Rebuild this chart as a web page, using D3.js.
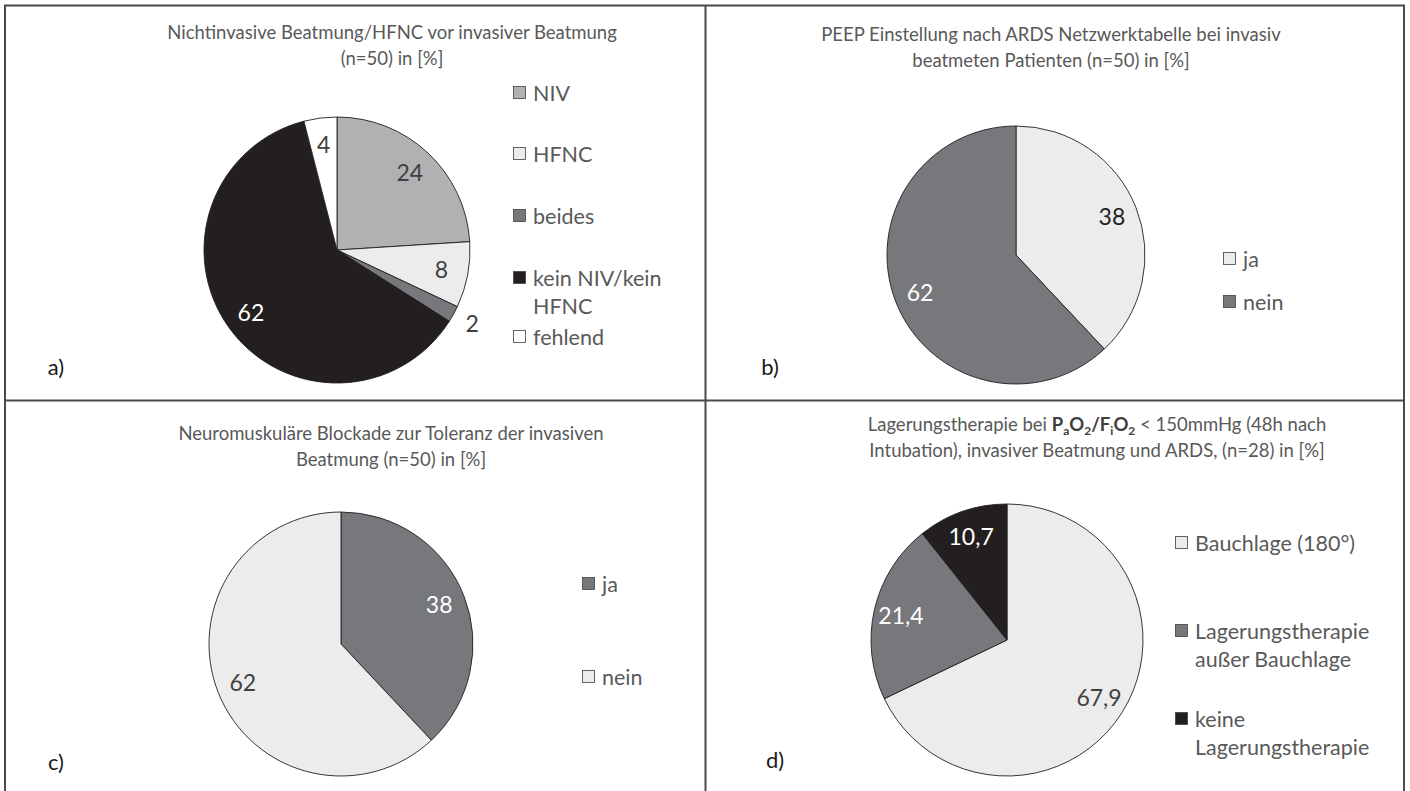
<!DOCTYPE html>
<html>
<head>
<meta charset="utf-8">
<script src="https://cdn.jsdelivr.net/npm/d3@7"></script>
<style>
  body { margin: 0; background: #fff; }
  svg text { font-family: Lato, "Open Sans", sans-serif; }
</style>
</head>
<body>
<svg id="canvas" width="1410" height="791"></svg>
<script>
// data
const catsA = [["NIV"], ["HFNC"], ["beides"], ["kein NIV/kein", "HFNC"], ["fehlend"]];
const valsA = [24, 8, 2, 62, 4];

const catsB = [["ja"], ["nein"]];
const valsB = [38, 62];

const catsC = [["ja"], ["nein"]];
const valsC = [38, 62];

const catsD = [["Bauchlage (180°)"], ["Lagerungstherapie", "außer Bauchlage"], ["keine", "Lagerungstherapie"]];
const valsD = [67.9, 21.4, 10.7];

const titleA = ["Nichtinvasive Beatmung/HFNC vor invasiver Beatmung", "(n=50) in [%]"];
const titleB = ["PEEP Einstellung nach ARDS Netzwerktabelle bei invasiv", "beatmeten Patienten (n=50) in [%]"];
const titleC = ["Neuromuskuläre Blockade zur Toleranz der invasiven", "Beatmung (n=50) in [%]"];
const titleD = [null, "Intubation), invasiver Beatmung und ARDS, (n=28) in [%]"]; // first line has subscripts

const LIGHT = "#ececec", MID = "#b1b1b3", DARK = "#77787b", BLACK = "#231f20", WHITE = "#ffffff";

const de = d3.formatLocale({decimal: ",", thousands: ".", grouping: [3], currency: ["", " €"]});
const fmt = v => Number.isInteger(v) ? String(v) : de.format(".1f")(v);

const svg = d3.select("#canvas");

const panels = [
  {id: "a)", cats: catsA, vals: valsA, title: titleA,
   fills: [MID, LIGHT, DARK, BLACK, WHITE], labelCol: ["#404040", "#404040", "#404040", "#fff", "#404040"],
   cx: 337, cy: 250, r: 133, tx: 392, ty: 39, lx: 513, ly: [93, 154, 216, 278, 337], tag: [56, 367]},
  {id: "b)", cats: catsB, vals: valsB, title: titleB,
   fills: [LIGHT, DARK], labelCol: ["#231f20", "#fff"],
   cx: 1016, cy: 255, r: 129, tx: 1051, ty: 41, lx: 1223, ly: [259, 302], tag: [770, 367]},
  {id: "c)", cats: catsC, vals: valsC, title: titleC,
   fills: [DARK, LIGHT], labelCol: ["#fff", "#404040"],
   cx: 341, cy: 644, r: 132, tx: 391, ty: 440, lx: 582, ly: [584, 677], tag: [56, 762]},
  {id: "d)", cats: catsD, vals: valsD, title: titleD,
   fills: [LIGHT, DARK, BLACK], labelCol: ["#404040", "#fff", "#fff"],
   cx: 1007, cy: 640, r: 136, tx: 1097, ty: 431, lx: 1175, ly: [543, 631, 719], tag: [775, 760]}
];

// frame
const frame = svg.append("g").attr("stroke", "#4a4a4a").attr("stroke-width", 2).attr("fill", "none");
frame.append("rect").attr("x", 5).attr("y", 5.5).attr("width", 1399).attr("height", 800);
frame.append("line").attr("x1", 705.5).attr("x2", 705.5).attr("y1", 5).attr("y2", 791);
frame.append("line").attr("x1", 5).attr("x2", 1404).attr("y1", 400.5).attr("y2", 400.5);

const pie = d3.pie().sort(null).value(d => d);

panels.forEach(p => {
  const g = svg.append("g");
  const arc = d3.arc().innerRadius(0).outerRadius(p.r);
  const labelArc = d3.arc().innerRadius(p.r * 0.8).outerRadius(p.r * 0.8);
  const outArc = d3.arc().innerRadius(p.r * 1.16).outerRadius(p.r * 1.16);
  const arcs = pie(p.vals);

  const pg = g.append("g").attr("transform", `translate(${p.cx},${p.cy})`);
  pg.selectAll("path")
    .data(arcs)
    .enter()
    .append("path")
    .attr("d", arc)
    .attr("fill", (d, i) => p.fills[i])
    .attr("stroke", "#231f20")
    .attr("stroke-width", 0.9);

  pg.selectAll("text")
    .data(arcs)
    .enter()
    .append("text")
    .attr("transform", d => `translate(${(d.data < 3 ? outArc : labelArc).centroid(d)})`)
    .attr("text-anchor", "middle")
    .attr("dy", "0.35em")
    .attr("font-size", 23)
    .attr("fill", (d, i) => p.labelCol[i])
    .text(d => fmt(d.data));

  // title
  const t = g.append("text")
    .attr("text-anchor", "middle")
    .attr("font-size", 18.5)
    .attr("fill", "#595959");
  if (p.title[0] !== null) {
    t.append("tspan").attr("x", p.tx).attr("y", p.ty).text(p.title[0]);
  } else {
    const l1 = t.append("tspan").attr("x", p.tx).attr("y", p.ty);
    l1.append("tspan").text("Lagerungstherapie bei ");
    const b = l1.append("tspan").attr("font-weight", "bold").attr("fill", "#404040");
    b.append("tspan").text("P");
    b.append("tspan").attr("font-size", 12).attr("dy", 4).text("a");
    b.append("tspan").attr("dy", -4).text("O");
    b.append("tspan").attr("font-size", 12).attr("dy", 4).text("2");
    b.append("tspan").attr("dy", -4).text("/F");
    b.append("tspan").attr("font-size", 12).attr("dy", 4).text("i");
    b.append("tspan").attr("dy", -4).text("O");
    b.append("tspan").attr("font-size", 12).attr("dy", 4).text("2");
    l1.append("tspan").attr("dy", -4).text(" < 150mmHg (48h nach");
  }
  t.append("tspan").attr("x", p.tx).attr("y", p.ty + 26).text(p.title[1]);

  // legend
  const lg = g.selectAll(".leg")
    .data(p.cats)
    .enter()
    .append("g")
    .attr("transform", (d, i) => `translate(${p.lx},${p.ly[i]})`);
  lg.append("rect")
    .attr("x", 0.5).attr("y", -6.5)
    .attr("width", 12).attr("height", 12)
    .attr("fill", (d, i) => p.fills[i])
    .attr("stroke", "#404040")
    .attr("stroke-width", 0.8);
  lg.append("text")
    .attr("font-size", 21.5)
    .attr("fill", "#595959")
    .selectAll("tspan")
    .data(d => d)
    .enter()
    .append("tspan")
    .attr("x", 20)
    .attr("y", (d, i) => i * 28)
    .attr("dy", "0.35em")
    .text(d => d);

  g.append("text")
    .attr("x", p.tag[0]).attr("y", p.tag[1])
    .attr("dy", "0.35em")
    .attr("text-anchor", "middle")
    .attr("font-size", 22)
    .attr("fill", "#1a1a1a")
    .text(p.id);
});
</script>
</body>
</html>
